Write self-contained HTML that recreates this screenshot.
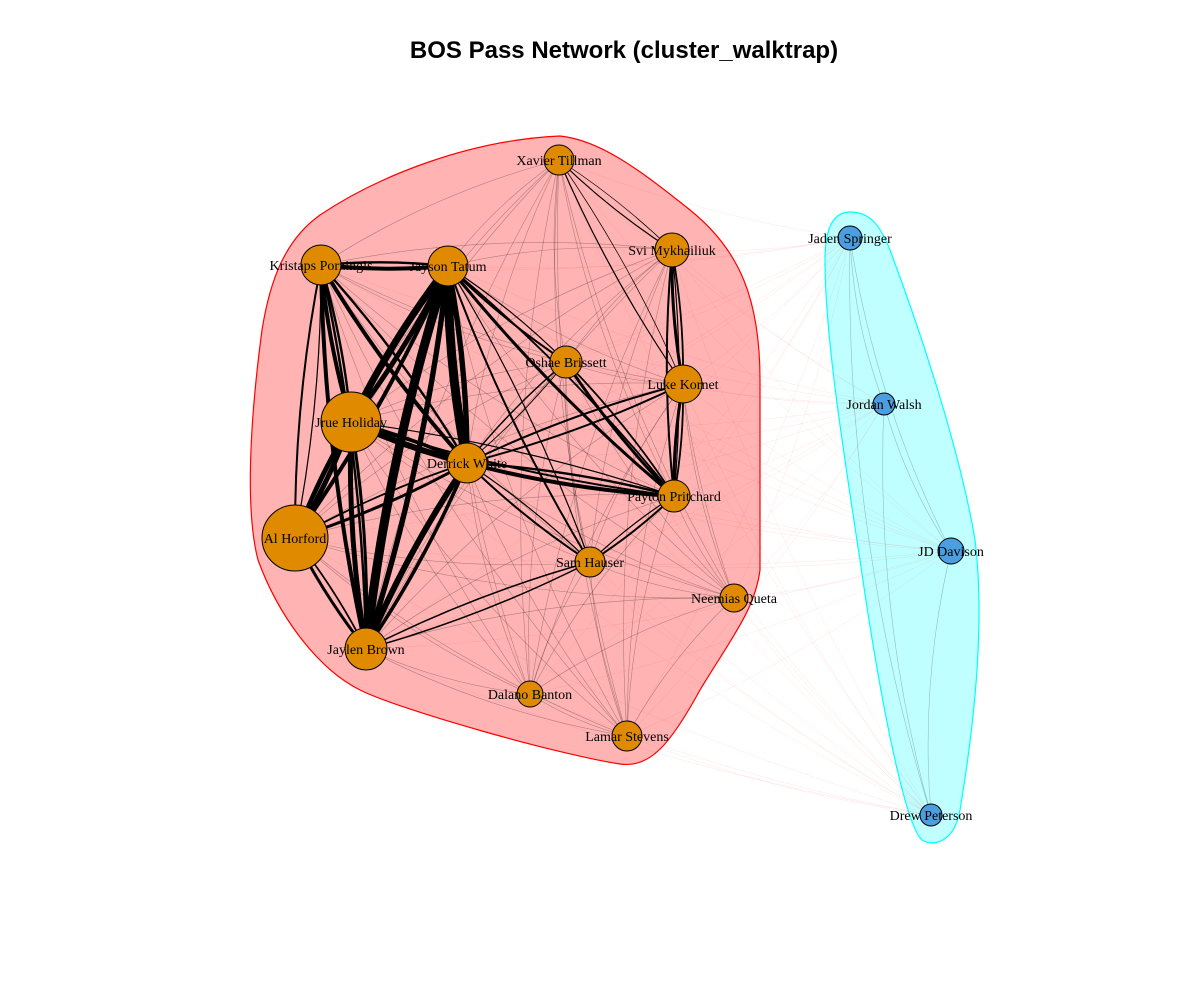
<!DOCTYPE html>
<html><head><meta charset="utf-8"><style>
html,body{margin:0;padding:0;background:#fff;}
svg{display:block;}
</style></head><body>
<svg id="chart" width="1200" height="1000" viewBox="0 0 1200 1000">
<rect width="1200" height="1000" fill="#fff"/>
<text x="624" y="58" text-anchor="middle" font-family="Liberation Sans, sans-serif" font-weight="bold" font-size="24">BOS Pass Network (cluster_walktrap)</text>
<path d="M560,136 C600,140 640,170 690,210 C740,250 760,300 760,380 L760,570 C755,610 730,640 700,690 C670,745 650,768 620,764 C560,755 400,710 360,690 C320,670 280,620 258,560 C245,510 250,420 262,330 C270,280 285,240 320,215 C380,175 470,140 560,136 Z" fill="#ffb3b3" stroke="#ff0000" stroke-width="1.2"/>
<path d="M850,212 C870,212 880,225 890,250 C920,330 960,450 975,540 C985,620 975,720 960,810 C955,840 935,848 922,840 C905,825 880,700 860,560 C840,430 825,330 825,260 C825,225 835,212 850,212 Z" fill="#bfffff" stroke="#00ffff" stroke-width="1.2"/>
<g id="edges"></g>
<g id="nodes"></g>
</svg>
<script>
const nodeNames=["Xavier Tillman","Svi Mykhailiuk","Kristaps Porzingis","Jayson Tatum","Oshae Brissett","Luke Kornet","Jrue Holiday","Derrick White","Payton Pritchard","Al Horford","Sam Hauser","Neemias Queta","Jaylen Brown","Dalano Banton","Lamar Stevens","Jaden Springer","Jordan Walsh","JD Davison","Drew Peterson"];
const nodeX=[559,672,321,448,566,683,351,467,674,295,590,734,366,530,627,850,884,951,931];
const nodeY=[160,250,265,266,362,384,422,463,496,538,562,598,649,694,736,238,404,551,815];
const nodeSize=[15,17,20,20,16,19,30,20,16,33,15,14,21,13,15,12,11,13,11];
const nodeCluster=[1,1,1,1,1,1,1,1,1,1,1,1,1,1,1,2,2,2,2];
const edgeFrom=[3,3,3,6,7,6,2,2,2,2,9,9,9,9,7,3,4,5,1,1,7,10,3,6,0,0,2,12,10,7,3,6,5,4];
const edgeTo=[12,7,6,7,12,12,3,6,7,12,6,3,12,7,8,8,8,8,8,5,10,8,10,8,1,5,9,10,12,5,4,3,7,7];
const edgeWeight=[9,9,7,6,6,5,4,4,4,4,5,4,3,3,4,3,3,3,2,3,2,2,2,2,1.2,1.2,2,1.5,1.5,2,2,5,2,1.5];
const thinWeight=0.6;
const crossWeight=0.5;

const NS="http://www.w3.org/2000/svg";
const eg=document.getElementById('edges'), ng=document.getElementById('nodes');
function curve(a,b,w,color,op,k){
  const x1=nodeX[a],y1=nodeY[a],x2=nodeX[b],y2=nodeY[b];
  const mx=(x1+x2)/2,my=(y1+y2)/2,dx=x2-x1,dy=y2-y1;
  const cx=mx-dy*k,cy=my+dx*k;
  const p=document.createElementNS(NS,'path');
  p.setAttribute('d',`M${x1},${y1} Q${cx},${cy} ${x2},${y2}`);
  p.setAttribute('fill','none');p.setAttribute('stroke',color);
  p.setAttribute('stroke-width',w);p.setAttribute('stroke-opacity',op);
  
  
  eg.appendChild(p);
}
const heavy=new Set();
edgeFrom.forEach((a,i)=>{heavy.add(a+'-'+edgeTo[i]);heavy.add(edgeTo[i]+'-'+a);});
for(let a=0;a<nodeNames.length;a++)for(let b=a+1;b<nodeNames.length;b++){
  if(heavy.has(a+'-'+b))continue;
  if(nodeCluster[a]===1&&nodeCluster[b]===1)curve(a,b,thinWeight,'#000',0.3,0.08);
  else if(nodeCluster[a]!==nodeCluster[b])curve(a,b,crossWeight,'#ff0000',0.1,0.06);
  else curve(a,b,thinWeight,'#000',0.25,0.08);
}
edgeFrom.forEach((a,i)=>{curve(a,edgeTo[i],edgeWeight[i],'#000',1,0.05);curve(edgeTo[i],a,edgeWeight[i]*0.6,'#000',1,0.05);});
nodeNames.forEach((n,i)=>{
  const c=document.createElementNS(NS,'circle');
  c.setAttribute('cx',nodeX[i]);c.setAttribute('cy',nodeY[i]);c.setAttribute('r',nodeSize[i]);
  c.setAttribute('fill',nodeCluster[i]===1?'#e08a00':'#4b9fe0');
  c.setAttribute('stroke','#000');c.setAttribute('stroke-width','1');
  
  
  ng.appendChild(c);
  const t=document.createElementNS(NS,'text');
  t.setAttribute('x',nodeX[i]);t.setAttribute('y',nodeY[i]+5);
  t.setAttribute('text-anchor','middle');
  t.setAttribute('font-family','Liberation Serif, serif');t.setAttribute('font-size','14');
  t.textContent=n;
  
  
  ng.appendChild(t);
});
</script>
</body></html>
